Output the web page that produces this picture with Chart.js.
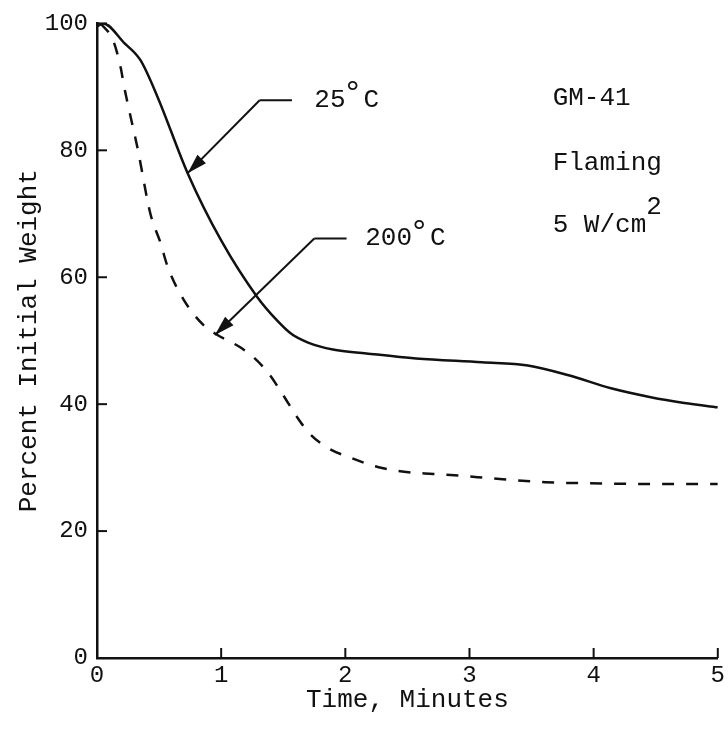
<!DOCTYPE html>
<html lang="en">
<head>
    <meta charset="UTF-8">
    <title>Percent Initial Weight vs Time</title>
    <script src="https://cdn.jsdelivr.net/npm/chart.js"></script>
    <style>
        body, html { margin: 0; padding: 0; background: #fff; }
        #wrap { width: 728px; height: 736px; }
    </style>
</head>
<body>
    <div id="wrap"><canvas id="chart" width="728" height="736"></canvas></div>

    <script>
        // 25 C curve (solid)
        var time25 = [0, 0.05, 0.22, 0.35, 0.49, 0.73, 1.0, 1.29, 1.45, 1.57, 1.7, 1.9, 2.17, 2.57, 3.1, 3.47, 3.79, 4.14, 4.46, 4.73, 5.0];
        var weight25 = [99.5, 100, 96.9, 94.2, 88.3, 76.4, 65.8, 56.9, 53.2, 51.0, 49.7, 48.6, 48.0, 47.2, 46.6, 46.1, 44.6, 42.5, 41.1, 40.2, 39.5];

        // 200 C curve (dashed)
        var time200 = [0.03, 0.13, 0.19, 0.22, 0.33, 0.43, 0.51, 0.57, 0.70, 0.86, 0.97, 1.15, 1.26, 1.38, 1.50, 1.61, 1.71, 1.86, 2.05, 2.26, 2.49, 2.71, 2.94, 3.18, 3.61, 4.09, 4.57, 5.0];
        var weight200 = [100, 97.3, 93.1, 89.9, 80, 70, 65.5, 61.6, 56.4, 52.4, 50.9, 49.0, 47.4, 44.9, 41.4, 38.0, 35.4, 33.1, 31.5, 30.1, 29.3, 29.0, 28.7, 28.3, 27.7, 27.5, 27.4, 27.4];

        var xTicks = [0, 1, 2, 3, 4, 5];
        var yTicks = [0, 20, 40, 60, 80, 100];

        var FONT = "'Liberation Mono', 'DejaVu Sans Mono', monospace";
        var INK = '#111';

        function toPoints(xs, ys) {
            return xs.map(function(x, i) { return { x: x, y: ys[i] }; });
        }

        // tick marks pointing into the plot
        var inwardTicks = {
            id: 'inwardTicks',
            afterDraw: function(chart) {
                var ctx = chart.ctx, x = chart.scales.x, y = chart.scales.y;
                ctx.save();
                ctx.strokeStyle = INK;
                ctx.lineWidth = 2;
                xTicks.forEach(function(v) {
                    var px = x.getPixelForValue(v);
                    ctx.beginPath(); ctx.moveTo(px, y.bottom); ctx.lineTo(px, y.bottom - 10); ctx.stroke();
                });
                yTicks.forEach(function(v) {
                    var py = y.getPixelForValue(v);
                    ctx.beginPath(); ctx.moveTo(x.left, py); ctx.lineTo(x.left + 10, py); ctx.stroke();
                });
                ctx.restore();
            }
        };

        function arrow(ctx, x0, y0, x1, y1) {
            var a = Math.atan2(y1 - y0, x1 - x0);
            var L = 20, W = 6;
            ctx.beginPath(); ctx.moveTo(x0, y0); ctx.lineTo(x1, y1); ctx.stroke();
            ctx.beginPath();
            ctx.moveTo(x1, y1);
            ctx.lineTo(x1 - L * Math.cos(a) + W * Math.sin(a), y1 - L * Math.sin(a) - W * Math.cos(a));
            ctx.lineTo(x1 - L * Math.cos(a) - W * Math.sin(a), y1 - L * Math.sin(a) + W * Math.cos(a));
            ctx.closePath();
            ctx.fill();
        }

        // leader lines and labels, placed in data units
        var notes = {
            id: 'notes',
            afterDraw: function(chart) {
                var ctx = chart.ctx, sx = chart.scales.x, sy = chart.scales.y;
                function P(x, y) { return [sx.getPixelForValue(x), sy.getPixelForValue(y)]; }
                ctx.save();
                ctx.strokeStyle = INK;
                ctx.fillStyle = INK;
                ctx.lineWidth = 2;

                function leader(tip, elbow, endX, label, textX) {
                    var t = P(tip[0], tip[1]), e = P(elbow[0], elbow[1]), h = P(endX, elbow[1]);
                    ctx.beginPath(); ctx.moveTo(e[0], e[1]); ctx.lineTo(h[0], h[1]); ctx.stroke();
                    arrow(ctx, e[0], e[1], t[0], t[1]);
                    var tx = P(textX, elbow[1]);
                    ctx.font = '26px ' + FONT;
                    ctx.textBaseline = 'middle';
                    ctx.textAlign = 'left';
                    ctx.fillText(label, tx[0], tx[1]);
                    var w = ctx.measureText(label).width;
                    ctx.font = '34px ' + FONT;
                    ctx.fillText('\u00B0', tx[0] + w - 3, tx[1] - 6);
                    ctx.font = '26px ' + FONT;
                    ctx.fillText('C', tx[0] + w + 18, tx[1]);
                }
                leader([0.73, 76.4], [1.31, 87.9], 1.57, '25', 1.75);
                leader([0.95, 50.9], [1.75, 66.1], 2.01, '200', 2.16);

                ctx.font = '26px ' + FONT;
                ctx.textBaseline = 'middle';
                var g = P(3.67, 88.3);
                ctx.fillText('GM-41', g[0], g[1]);
                var f = P(3.67, 78);
                ctx.fillText('Flaming', f[0], f[1]);
                var p = P(3.67, 68.2);
                ctx.fillText('5 W/cm', p[0], p[1]);
                var pw = ctx.measureText('5 W/cm').width;
                ctx.font = '26px ' + FONT;
                ctx.fillText('2', p[0] + pw, p[1] - 18);
                ctx.restore();
            }
        };

        var ctx = document.getElementById('chart').getContext('2d');
        new Chart(ctx, {
            type: 'line',
            data: {
                datasets: [
                    {
                        label: '25\u00B0C',
                        data: toPoints(time25, weight25),
                        borderColor: INK,
                        borderWidth: 2.5,
                        pointRadius: 0,
                        fill: false,
                        cubicInterpolationMode: 'monotone'
                    },
                    {
                        label: '200\u00B0C',
                        data: toPoints(time200, weight200),
                        borderColor: INK,
                        borderWidth: 2.5,
                        borderDash: [12, 12],
                        pointRadius: 0,
                        fill: false,
                        cubicInterpolationMode: 'monotone'
                    }
                ]
            },
            options: {
                responsive: false,
                animation: false,
                layout: { padding: { top: 23, right: 7, left: 0, bottom: 0 } },
                plugins: {
                    legend: { display: false },
                    tooltip: { enabled: false }
                },
                scales: {
                    x: {
                        type: 'linear',
                        min: 0,
                        max: 5,
                        afterFit: function(s) { s.height = 78; },
                        grid: { display: false, drawTicks: false },
                        border: { display: true, color: INK, width: 2.5 },
                        ticks: { stepSize: 1, padding: 3, color: INK, font: { family: FONT, size: 24 } },
                        title: { display: true, text: 'Time, Minutes', color: INK, padding: { top: 0, bottom: 20 }, font: { family: FONT, size: 26 } }
                    },
                    y: {
                        min: 0,
                        max: 100,
                        afterFit: function(s) { s.width = 97; },
                        grid: { display: false, drawTicks: false },
                        border: { display: true, color: INK, width: 2.5 },
                        ticks: { stepSize: 20, padding: 9, color: INK, font: { family: FONT, size: 24 } },
                        title: { display: true, text: 'Percent Initial Weight', color: INK, padding: { top: 14, bottom: 0 }, font: { family: FONT, size: 26 } }
                    }
                }
            },
            plugins: [inwardTicks, notes]
        });
    </script>
</body>
</html>
